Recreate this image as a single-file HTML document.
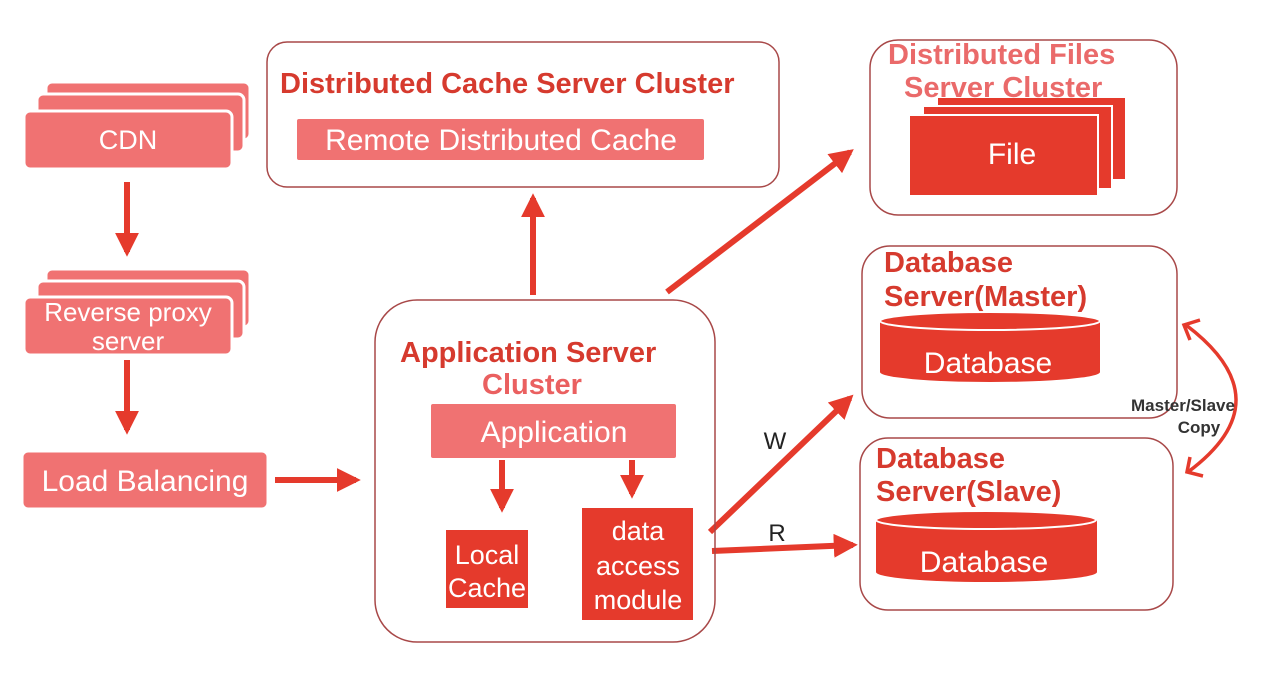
<!DOCTYPE html>
<html><head><meta charset="utf-8"><style>
html,body{margin:0;padding:0;background:#fff;}
svg{display:block;font-family:"Liberation Sans",sans-serif;}
</style></head><body>
<svg width="1261" height="687" viewBox="0 0 1261 687" xmlns="http://www.w3.org/2000/svg">
<defs>
<marker id="ah" markerWidth="4" markerHeight="4" refX="3.2" refY="2" orient="auto" markerUnits="strokeWidth"><path d="M0,0 L4,2 L0,4 z" fill="#e53a2c"/></marker>
</defs>
<g stroke="#fff" stroke-width="3">
<rect x="46" y="82" width="204" height="58" rx="6" fill="#f07272"/>
<rect x="37" y="94" width="207" height="58" rx="6" fill="#f07272"/>
<rect x="24" y="111" width="208" height="58" rx="6" fill="#f07272"/>
<rect x="46" y="269" width="204" height="58" rx="6" fill="#f07272"/>
<rect x="37" y="281" width="207" height="58" rx="6" fill="#f07272"/>
<rect x="24" y="297" width="208" height="58" rx="6" fill="#f07272"/>
<rect x="22" y="451" width="246" height="58" rx="6" fill="#f07272"/>
</g>
<g fill="#fff" text-anchor="middle">
<text x="128" y="149" font-size="27">CDN</text>
<text x="128" y="321" font-size="26">Reverse proxy</text>
<text x="128" y="350" font-size="26">server</text>
<text x="145" y="491" font-size="30">Load Balancing</text>
</g>
<g stroke="#e53a2c" stroke-width="6" fill="none" marker-end="url(#ah)">
<line x1="127" y1="182" x2="127" y2="252"/>
<line x1="127" y1="360" x2="127" y2="430"/>
<line x1="275" y1="480" x2="356" y2="480"/>
<line x1="533" y1="295" x2="533" y2="198"/>
<line x1="502" y1="460" x2="502" y2="508"/>
<line x1="632" y1="460" x2="632" y2="494"/>
<line x1="667" y1="292" x2="850" y2="152"/>
<line x1="710" y1="532" x2="850" y2="398"/>
<line x1="712" y1="551" x2="853" y2="545"/>
</g>
<rect x="267" y="42" width="512" height="145" rx="20" fill="none" stroke="#a84848" stroke-width="1.5"/>
<text x="280" y="93" font-size="29" font-weight="bold" fill="#d63a2e">Distributed Cache Server Cluster</text>
<rect x="296" y="118" width="409" height="43" rx="3" fill="#f07272" stroke="#fff" stroke-width="2"/>
<text x="501" y="150" font-size="30" fill="#fff" text-anchor="middle">Remote Distributed Cache</text>
<rect x="375" y="300" width="340" height="342" rx="42" fill="none" stroke="#a84848" stroke-width="1.5"/>
<text x="400" y="362" font-size="29" font-weight="bold" fill="#d63a2e">Application Server</text>
<text x="532" y="394" font-size="29" font-weight="bold" fill="#ea6060" text-anchor="middle">Cluster</text>
<rect x="430" y="403" width="247" height="56" rx="3" fill="#f07272" stroke="#fff" stroke-width="2"/>
<text x="554" y="442" font-size="30" fill="#fff" text-anchor="middle">Application</text>
<rect x="446" y="530" width="82" height="78" fill="#e53a2c"/>
<text x="487" y="564" font-size="27" fill="#fff" text-anchor="middle">Local</text>
<text x="487" y="597" font-size="27" fill="#fff" text-anchor="middle">Cache</text>
<rect x="582" y="508" width="111" height="112" fill="#e53a2c"/>
<text x="638" y="540" font-size="27" fill="#fff" text-anchor="middle">data</text>
<text x="638" y="575" font-size="27" fill="#fff" text-anchor="middle">access</text>
<text x="638" y="609" font-size="27" fill="#fff" text-anchor="middle">module</text>
<text x="775" y="449" font-size="24" fill="#222" text-anchor="middle">W</text>
<text x="777" y="541" font-size="24" fill="#222" text-anchor="middle">R</text>
<rect x="870" y="40" width="307" height="175" rx="28" fill="none" stroke="#a84848" stroke-width="1.5"/>
<rect x="937" y="97" width="189" height="83" fill="#e53a2c" stroke="#fff" stroke-width="2"/>
<rect x="923" y="106" width="189" height="83" fill="#e53a2c" stroke="#fff" stroke-width="2"/>
<rect x="909" y="115" width="189" height="81" fill="#e53a2c" stroke="#fff" stroke-width="2"/>
<text x="888" y="64" font-size="29" font-weight="bold" fill="#ea6a6a">Distributed Files</text>
<text x="904" y="97" font-size="29" font-weight="bold" fill="#ea6a6a">Server Cluster</text>
<text x="1012" y="164" font-size="30" fill="#fff" text-anchor="middle">File</text>
<rect x="862" y="246" width="315" height="172" rx="28" fill="none" stroke="#a84848" stroke-width="1.5"/>
<text x="884" y="272" font-size="29" font-weight="bold" fill="#d63a2e">Database</text>
<text x="884" y="306" font-size="29" font-weight="bold" fill="#d63a2e">Server(Master)</text>
<path d="M880,322 L880,372 A110,10 0 0 0 1100,372 L1100,322 Z" fill="#e53a2c"/>
<ellipse cx="990" cy="321" rx="110" ry="9" fill="#e53a2c" stroke="#fff" stroke-width="2"/>
<text x="988" y="373" font-size="30" fill="#fff" text-anchor="middle">Database</text>
<rect x="860" y="438" width="313" height="172" rx="28" fill="none" stroke="#a84848" stroke-width="1.5"/>
<text x="876" y="468" font-size="29" font-weight="bold" fill="#d63a2e">Database</text>
<text x="876" y="501" font-size="29" font-weight="bold" fill="#d63a2e">Server(Slave)</text>
<path d="M876,520 L876,572 A110,10 0 0 0 1097,572 L1097,520 Z" fill="#e53a2c"/>
<ellipse cx="986" cy="520" rx="110" ry="9" fill="#e53a2c" stroke="#fff" stroke-width="2"/>
<text x="984" y="572" font-size="30" fill="#fff" text-anchor="middle">Database</text>
<path d="M1186,325 Q1285,400 1188,472" fill="none" stroke="#e53a2c" stroke-width="3.5"/>
<path d="M1200,320 L1184,325 L1190,340" fill="none" stroke="#e53a2c" stroke-width="3.5"/>
<path d="M1190,457 L1187,472 L1203,476" fill="none" stroke="#e53a2c" stroke-width="3.5"/>
<text x="1183" y="411" font-size="17" font-weight="bold" fill="#333" text-anchor="middle">Master/Slave</text>
<text x="1199" y="433" font-size="17" font-weight="bold" fill="#333" text-anchor="middle">Copy</text>
</svg>
</body></html>
